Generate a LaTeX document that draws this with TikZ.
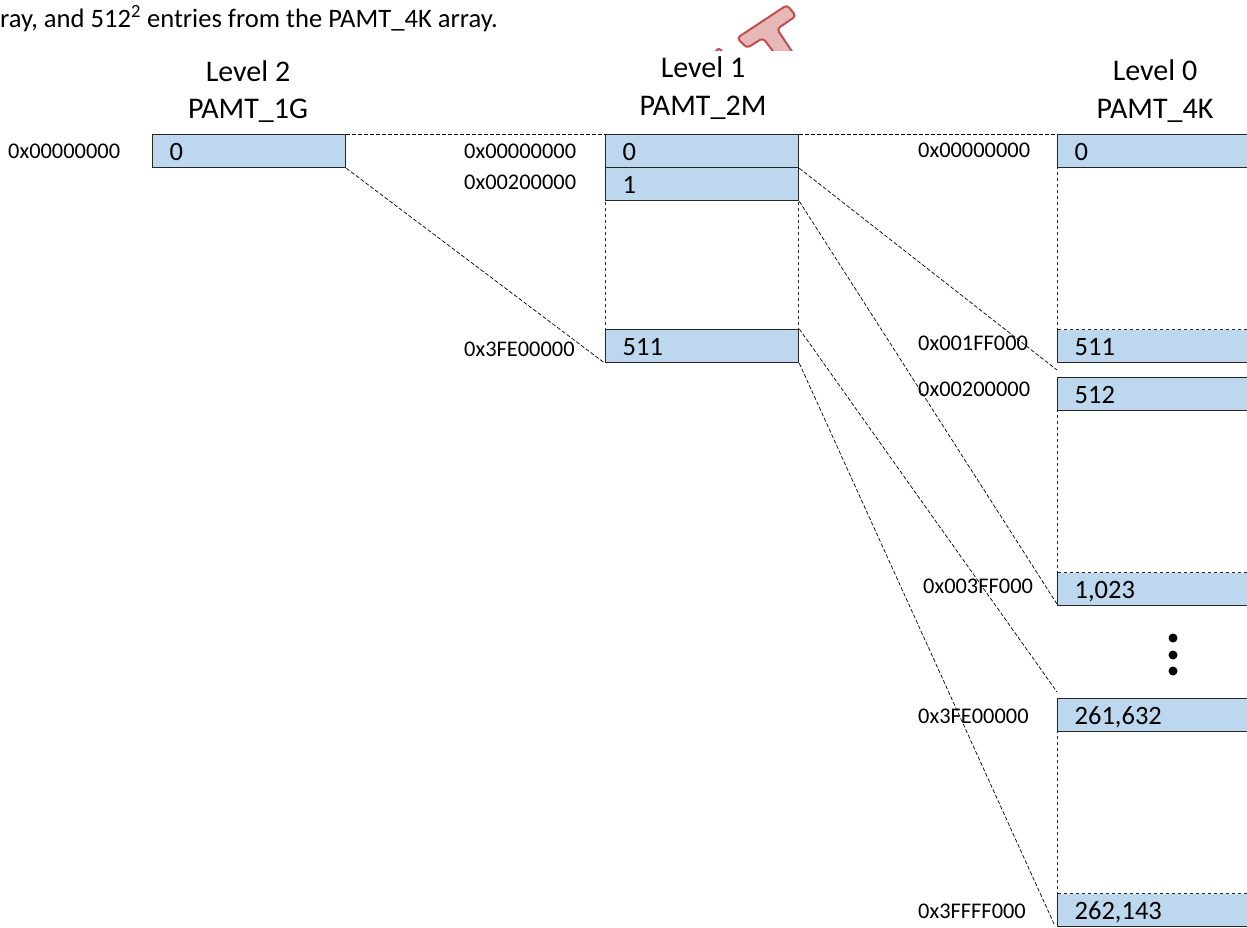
\documentclass[tikz,border=0pt]{standalone}
\usepackage{fontspec}
\setmainfont{Carlito}
\definecolor{entryblue}{HTML}{BDD7EE}
\definecolor{markfill}{HTML}{E8B7B7}
\definecolor{markline}{HTML}{C0504D}
\tikzset{
  entry/.style={draw=black!85,fill=entryblue,line width=1.3pt,anchor=north west,minimum width=193pt,
    minimum height=33pt,inner xsep=17pt,inner ysep=0pt,text width=159pt,text height=19pt,text depth=0pt,
    align=left,font=\fontsize{26.5}{30}\selectfont},
  gap/.style={draw=black!85,fill=white,dashed,line width=1.3pt,anchor=north west,minimum width=193pt,inner sep=0pt},
  addr/.style={anchor=west,inner sep=0pt,font=\fontsize{22.4}{26}\selectfont},
  title/.style={anchor=center,inner sep=0pt,font=\fontsize{30}{34}\selectfont},
  link/.style={line width=0.7pt,dash pattern=on 4pt off 2pt},
  dot/.style={circle,fill=black,inner sep=0pt,minimum size=9pt}
}
\begin{document}
\begin{tikzpicture}[x=1pt,y=-1pt]
  \useasboundingbox (0,0) rectangle (1247,927);

  % watermark, cut off above the titles
  \begin{scope}
    \clip (600,0) rectangle (850,50);
    \draw[fill=markfill,draw=markline,line width=2pt,rounded corners=3.5pt]
      (737,38) -- (787,5) -- (796,16) -- (777,29) -- (799,62) -- (781,62) -- (763,38) -- (747,48) -- cycle;
    \draw[fill=markfill,draw=markline,line width=2pt,rounded corners=2pt]
      (713,54) -- (719,48) -- (724,54) -- cycle;
  \end{scope}

  \node [anchor=base west,inner sep=0pt,font=\fontsize{26.6}{30}\selectfont] (caption) at (0,27)
    {ray, and 512\textsuperscript{2} entries from the PAMT\_4K array.};

  \node [title] (level2) at (248,71) {Level 2};
  \node [title] (pamt1g) at (248,111) {PAMT\_1G};
  \node [title] (level1) at (703,67) {Level 1};
  \node [title] (pamt2m) at (703,108) {PAMT\_2M};
  \node [title] (level0) at (1155,70) {Level 0};
  \node [title] (pamt4k) at (1155,111) {PAMT\_4K};

  % level 2
  \node [entry] (g0) at (152,134) {0};

  % level 1
  \node [gap,minimum height=129pt] (mgap) at (605,200) {};
  \node [entry] (m0) at (605,134) {0};
  \node [entry] (m1) at (605,167) {1};
  \node [entry] (m511) at (605,329) {511};

  % level 0
  \node [entry] (k0) at (1057,134) {0};
  \node [entry] (k511) at (1057,329) {511};
  \node [entry] (k512) at (1057,377) {512};
  \node [entry] (k1023) at (1057,572) {1,023};
  \node [entry] (k261632) at (1057,698) {261,632};
  \node [entry] (k262143) at (1057,893) {262,143};
  \node [gap,minimum height=162pt] (kgapa) at (1057,167) {};
  \node [gap,minimum height=162pt] (kgapb) at (1057,410) {};
  \node [gap,minimum height=162pt] (kgapc) at (1057,731) {};

  \node [addr] (ag0) at (8,151) {0x00000000};
  \node [addr] (am0) at (464,151) {0x00000000};
  \node [addr] (am1) at (464,182) {0x00200000};
  \node [addr] (am511) at (464,349) {0x3FE00000};
  \node [addr] (ak0) at (918,150) {0x00000000};
  \node [addr] (ak511) at (918,343) {0x001FF000};
  \node [addr] (ak512) at (918,389) {0x00200000};
  \node [addr] (ak1023) at (923,586) {0x003FF000};
  \node [addr] (ak261632) at (918,716) {0x3FE00000};
  \node [addr] (ak262143) at (918,911) {0x3FFFF000};

  \node [dot] (dota) at (1173,638) {};
  \node [dot] (dotb) at (1173,655) {};
  \node [dot] (dotc) at (1173,671) {};

  \coordinate (enda) at (1057,370);
  \coordinate (endb) at (1057,604);
  \coordinate (endc) at (1057,692);
  \coordinate (endd) at (1055,926);

  \draw [link] (g0.north east) -- (m0.north west);
  \draw [link] (g0.south east) -- (m511.south west);
  \draw [link] (m0.north east) -- (k0.north west);
  \draw [link] (m0.south east) -- (enda);
  \draw [link] (m1.south east) -- (endb);
  \draw [link] (m511.north east) -- (endc);
  \draw [link] (m511.south east) -- (endd);

\end{tikzpicture}
\end{document}
